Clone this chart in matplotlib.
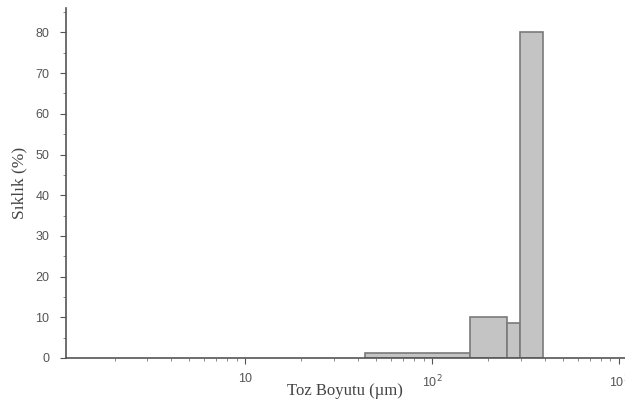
import matplotlib.pyplot as plt
from matplotlib.ticker import LogLocator, FixedLocator, MultipleLocator

plt.rcParams['font.family'] = ['Liberation Serif', 'DejaVu Serif']

# bin edges (µm) and frequency (%)
edges = [44, 160, 252, 296, 393]
freq = [1.3, 10.1, 8.6, 80]
xticks = [10, 100, 1000]
xticklabels = ['10', '10$^2$', '10$^3$']

widths = [edges[i + 1] - edges[i] for i in range(len(freq))]

fig = plt.figure(figsize=(6.25, 4.07), dpi=100)
ax = fig.add_axes([66 / 625, 1 - 358 / 407, 1 - 66 / 625, 350 / 407])

ax.bar(edges[:-1], freq, width=widths, align='edge',
       color='#c4c4c4', edgecolor='#7a7a7a', linewidth=1.2)

ax.set_xscale('log')
ax.set_xlim(1.10, 1077)
ax.set_ylim(0, 86)

ax.xaxis.set_major_locator(FixedLocator(xticks))
ax.set_xticklabels(xticklabels)
ax.xaxis.set_minor_locator(LogLocator(base=10, subs=range(2, 10)))
ax.yaxis.set_major_locator(MultipleLocator(10))
ax.yaxis.set_minor_locator(MultipleLocator(5))

for s in ['top', 'right']:
    ax.spines[s].set_visible(False)
for s in ['left', 'bottom']:
    ax.spines[s].set_color('#555555')
    ax.spines[s].set_linewidth(1.2)

ax.tick_params(which='major', direction='out', length=4, color='#555555',
               labelsize=9, labelcolor='#555555')
ax.tick_params(axis='y', which='major', pad=8)
ax.tick_params(axis='x', which='major', pad=7)
ax.tick_params(which='minor', direction='out', length=2, color='#777777')
for lab in ax.get_xticklabels() + ax.get_yticklabels():
    lab.set_family(['Liberation Sans', 'DejaVu Sans'])

ax.set_xlabel('Toz Boyutu (µm)', fontsize=12, color='#444444')
ax.xaxis.set_label_coords(0.499, -0.072)
ax.set_ylabel('Sıklık (%)', fontsize=12.5, color='#444444', labelpad=6)

fig.savefig('out.png', dpi=100)
